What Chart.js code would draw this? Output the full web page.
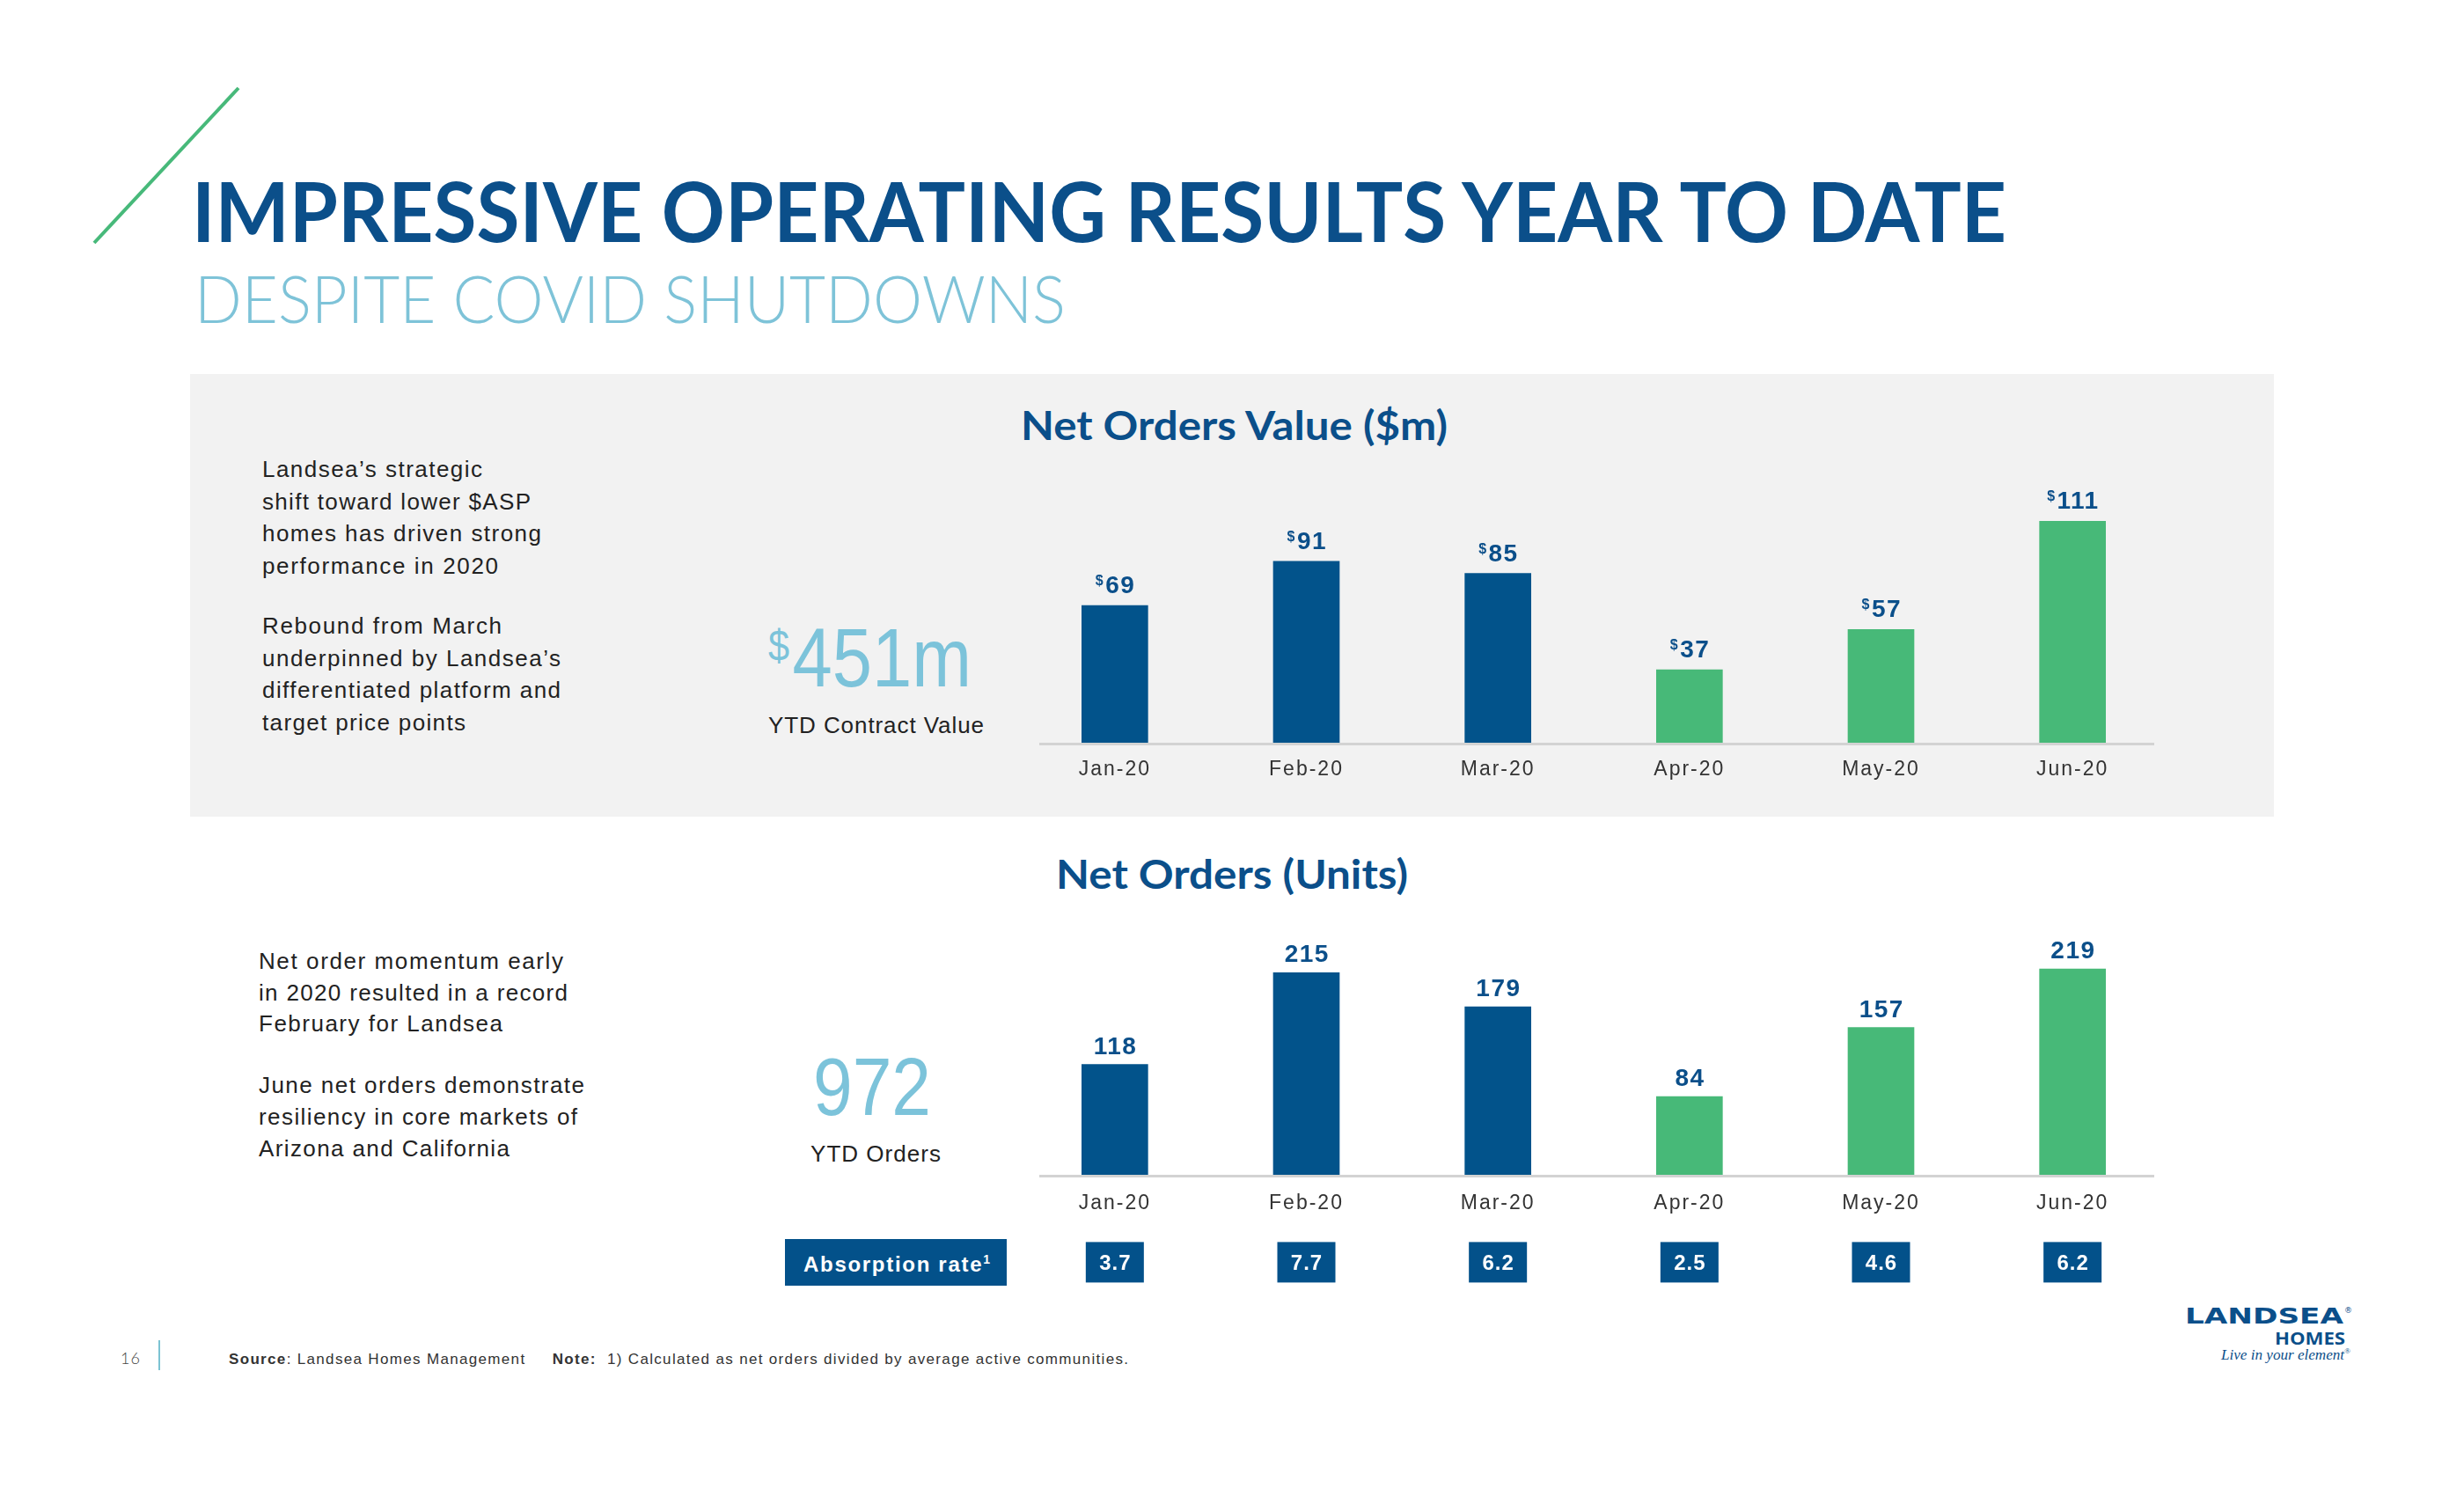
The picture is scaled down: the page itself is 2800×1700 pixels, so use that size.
<!DOCTYPE html>
<html>
<head>
<meta charset="utf-8">
<script src="https://cdn.jsdelivr.net/npm/chart.js@4.4.1/dist/chart.umd.min.js"></script>
<style>
  html, body { margin:0; padding:0; background:#ffffff; }
  #slide { position:relative; width:2800px; height:1700px; overflow:hidden; background:#ffffff; }
  .t { position:absolute; white-space:nowrap; line-height:1.2; }
  .sans { font-family:"Liberation Sans", Arial, "DejaVu Sans", sans-serif; }
  .geo { font-family:Lato, "Open Sans", sans-serif; }
  .body { font-size:26px; color:#222222; }
  canvas.chart { position:absolute; }
</style>
</head>
<body>
<div id="slide">
  <div style="position:absolute;left:216px;top:425px;width:2368px;height:503px;background:#f2f2f2"></div>
  <svg style="position:absolute;left:0;top:0" width="400" height="320">
    <line x1="271" y1="100" x2="107" y2="276" stroke="#47b97a" stroke-width="4"/>
  </svg>

  <div class="t geo" data-x="218" data-b="275" data-w="2062" data-fit="sx" style="font-weight:700;font-size:93px;color:#0b4f8a">IMPRESSIVE OPERATING RESULTS YEAR TO DATE</div>
  <div class="t geo" data-x="221" data-b="367" data-w="990" data-fit="sx" style="font-weight:300;font-size:75px;color:#7ec3d8">DESPITE COVID SHUTDOWNS</div>

  <div class="t geo" data-cx="1402" data-b="500" data-w="485" data-fit="sx" style="font-weight:700;font-size:45px;color:#0b4f8a">Net Orders Value ($m)</div>
  <div class="t geo" data-cx="1400" data-b="1010" data-w="400" data-fit="sx" style="font-weight:700;font-size:45px;color:#0b4f8a">Net Orders (Units)</div>

  <div class="t sans body" data-x="298" data-b="542" data-w="250">Landsea’s strategic</div>
  <div class="t sans body" data-x="298" data-b="579" data-w="305">shift toward lower $ASP</div>
  <div class="t sans body" data-x="298" data-b="615" data-w="317">homes has driven strong</div>
  <div class="t sans body" data-x="298" data-b="652" data-w="268">performance in 2020</div>
  <div class="t sans body" data-x="298" data-b="720" data-w="272">Rebound from March</div>
  <div class="t sans body" data-x="298" data-b="757" data-w="339">underpinned by Landsea’s</div>
  <div class="t sans body" data-x="298" data-b="793" data-w="339">differentiated platform and</div>
  <div class="t sans body" data-x="298" data-b="830" data-w="231">target price points</div>

  <div class="t sans" data-x="873" data-b="780" data-w="231" data-fit="sx" style="font-size:94px;color:#7cc3da">
    <span style="font-size:50px;position:relative;top:-29px">$</span><span style="margin-left:4px">451m</span></div>
  <div class="t sans body" data-x="873" data-b="833" data-w="245">YTD Contract Value</div>

  <div class="t sans body" data-x="294" data-b="1101" data-w="346">Net order momentum early</div>
  <div class="t sans body" data-x="294" data-b="1137" data-w="351">in 2020 resulted in a record</div>
  <div class="t sans body" data-x="294" data-b="1172" data-w="277">February for Landsea</div>
  <div class="t sans body" data-x="294" data-b="1242" data-w="370">June net orders demonstrate</div>
  <div class="t sans body" data-x="294" data-b="1278" data-w="362">resiliency in core markets of</div>
  <div class="t sans body" data-x="294" data-b="1314" data-w="285">Arizona and California</div>

  <div class="t sans" data-x="924" data-b="1267" data-w="134" data-fit="sx" style="font-size:92px;color:#7cc3da">972</div>
  <div class="t sans body" data-x="921" data-b="1320" data-w="148">YTD Orders</div>

  <div style="position:absolute;left:892px;top:1408px;width:252px;height:53px;background:#03518a"></div>
  <div class="t sans" data-x="913" data-b="1445" data-w="212" style="font-size:24px;font-weight:700;color:#ffffff">Absorption rate<span style="font-size:14px;position:relative;top:-9px">1</span></div>

  <canvas id="valueChart" class="chart"></canvas>
  <canvas id="unitsChart" class="chart"></canvas>

  <div class="t geo" data-x="137" data-b="1550" data-w="22" style="font-size:18px;font-weight:300;color:#444">16</div>
  <div style="position:absolute;left:180px;top:1523px;width:2px;height:34px;background:#7cc3d3"></div>
  <div class="t sans" data-x="260" data-b="1550" data-w="1022" style="font-size:17px;color:#333"><b>Source</b>: Landsea Homes Management&nbsp;&nbsp;&nbsp;&nbsp; <b>Note:</b>&nbsp; 1) Calculated as net orders divided by average active communities.</div>

  <div class="t" data-x="2483" data-b="1504" data-w="180" data-fit="sx" style="font-family:'DejaVu Sans',sans-serif;font-weight:700;font-size:24px;color:#0b4f8a">LANDSEA</div>
  <div class="t" data-x="2664" data-b="1492" style="font-family:'DejaVu Sans',sans-serif;font-size:9px;color:#0b4f8a">®</div>
  <div class="t" data-x="2585" data-b="1528" data-w="80" data-fit="sx" style="font-family:'Open Sans',sans-serif;font-weight:700;font-size:19px;color:#0b4f8a">HOMES</div>
  <div class="t" data-x="2524" data-b="1545" data-w="147" data-fit="sx" style="font-family:'Liberation Serif',serif;font-style:italic;font-size:17px;color:#0b4f8a">Live in your element<span style="font-size:9px;position:relative;top:-7px">®</span></div>
</div>

<script>
// ---------- data ----------
const months = ['Jan-20', 'Feb-20', 'Mar-20', 'Apr-20', 'May-20', 'Jun-20'];
const netOrdersValue = [69, 91, 85, 37, 57, 111];
const netOrdersUnits = [118, 215, 179, 84, 157, 219];
const absorptionRate = [3.7, 7.7, 6.2, 2.5, 4.6, 6.2];

// ---------- style ----------
const BLUE = '#02538b';
const GREEN = '#47b978';
const LABEL_BLUE = '#0b4f8a';
const SANS = '"Liberation Sans", Arial, sans-serif';

function placeText() {
  document.querySelectorAll('[data-b]').forEach(el => {
    const fit = el.dataset.fit || 'ls';
    const tw = parseFloat(el.dataset.w);
    el.style.left = '0px'; el.style.top = '0px';
    let w;
    if (tw) {
      const w0 = el.getBoundingClientRect().width;
      if (fit === 'sx') {
        el.style.transformOrigin = '0 0';
        el.style.transform = 'scaleX(' + (tw / w0) + ')';
      } else {
        const n = [...el.textContent.trim()].length;
        el.style.letterSpacing = ((tw - w0) / Math.max(1, n - 1)) + 'px';
      }
      w = tw;
    } else {
      w = el.getBoundingClientRect().width;
    }
    const m = document.createElement('span');
    m.style.cssText = 'display:inline-block;width:0;height:0;vertical-align:baseline';
    el.appendChild(m);
    const off = m.offsetTop;
    el.removeChild(m);
    const x = el.dataset.cx ? parseFloat(el.dataset.cx) - w / 2 : parseFloat(el.dataset.x);
    el.style.left = x + 'px';
    el.style.top = (parseFloat(el.dataset.b) - off) + 'px';
  });
}

const spacingPlugin = {
  id: 'spacing',
  beforeDraw(chart) { chart.ctx.letterSpacing = '2px'; }
};

const axisLinePlugin = {
  id: 'axisLine',
  afterDatasetsDraw(chart) {
    const ctx = chart.ctx, a = chart.chartArea;
    const y0 = chart.scales.y.getPixelForValue(0);
    ctx.save();
    ctx.strokeStyle = '#d3d3d3';
    ctx.lineWidth = 3;
    ctx.beginPath();
    ctx.moveTo(a.left + 23, y0);
    ctx.lineTo(a.right - 16, y0);
    ctx.stroke();
    ctx.restore();
  }
};

const valueLabelPlugin = {
  id: 'valueLabels',
  afterDatasetsDraw(chart, args, opts) {
    const ctx = chart.ctx;
    const meta = chart.getDatasetMeta(0);
    const data = chart.data.datasets[0].data;
    meta.data.forEach((bar, i) => {
      const txt = String(data[i]);
      ctx.save();
      ctx.letterSpacing = '1.5px';
      ctx.fillStyle = LABEL_BLUE;
      ctx.textAlign = 'left';
      ctx.textBaseline = 'alphabetic';
      ctx.font = 'bold 28px ' + SANS;
      const w = ctx.measureText(txt).width - 1.5;
      let sw = 0;
      if (opts.prefix) {
        ctx.font = 'bold 16px ' + SANS;
        sw = ctx.measureText(opts.prefix).width + 1;
      }
      const x0 = bar.x - (w + sw) / 2;
      const yb = bar.y - opts.gap;
      if (opts.prefix) {
        ctx.font = 'bold 16px ' + SANS;
        ctx.fillText(opts.prefix, x0, yb - 9);
      }
      ctx.font = 'bold 28px ' + SANS;
      ctx.fillText(txt, x0 + sw, yb);
      ctx.restore();
    });
  }
};

const absorptionPlugin = {
  id: 'absorption',
  afterDraw(chart, args, opts) {
    if (!opts.values) return;
    const ctx = chart.ctx;
    const xs = chart.scales.x;
    const y0 = chart.scales.y.getPixelForValue(0);
    ctx.save();
    opts.values.forEach((v, i) => {
      const cx = xs.getPixelForValue(i);
      ctx.fillStyle = '#03518a';
      ctx.fillRect(cx - 33, y0 + 75, 66, 46);
      ctx.fillStyle = '#ffffff';
      ctx.font = 'bold 24px ' + SANS;
      ctx.letterSpacing = '1px';
      ctx.textAlign = 'center';
      ctx.textBaseline = 'alphabetic';
      ctx.fillText(v.toFixed(1), cx + 0.5, y0 + 107);
    });
    ctx.restore();
  }
};

function makeChart(id, values, cfg) {
  const canvas = document.getElementById(id);
  canvas.width = 1306;
  canvas.height = cfg.height;
  const chart = new Chart(canvas, {
    type: 'bar',
    data: {
      labels: months,
      datasets: [{
        data: values,
        backgroundColor: values.map((v, i) => (i < 3 ? BLUE : GREEN)),
        barThickness: 75,
        borderWidth: 0
      }]
    },
    options: {
      responsive: false,
      animation: false,
      devicePixelRatio: 1,
      layout: { padding: { left: 0, right: 0, top: 0, bottom: cfg.padBottom } },
      plugins: {
        legend: { display: false },
        tooltip: { enabled: false },
        title: { display: false },
        valueLabels: { prefix: cfg.prefix, gap: cfg.gap },
        absorption: { values: cfg.boxes }
      },
      scales: {
        x: {
          grid: { display: false, drawTicks: false },
          border: { display: false },
          ticks: { color: '#333333', font: { family: SANS, size: 23 }, padding: cfg.tickPad }
        },
        y: { display: false, min: 0, max: 100 }
      }
    },
    plugins: [spacingPlugin, axisLinePlugin, valueLabelPlugin, absorptionPlugin]
  });
  // scale so that each unit uses the measured pixel height of the reference
  const a = chart.chartArea;
  chart.options.scales.y.max = (a.bottom - a.top) / cfg.pxPerUnit;
  chart.update();
  const y0 = chart.scales.y.getPixelForValue(0);
  const xJan = chart.scales.x.getPixelForValue(0);
  canvas.style.top = (cfg.baseY - y0) + 'px';
  canvas.style.left = (cfg.janX - xJan) + 'px';
  return chart;
}

placeText();
makeChart('valueChart', netOrdersValue, {
  height: 400, padBottom: 0, tickPad: 15, pxPerUnit: 2.28, baseY: 845, janX: 1267, prefix: '$', gap: 14
});
makeChart('unitsChart', netOrdersUnits, {
  height: 470, padBottom: 125, tickPad: 17, pxPerUnit: 1.075, baseY: 1336, janX: 1267, gap: 12, boxes: absorptionRate
});
</script>
</body>
</html>
